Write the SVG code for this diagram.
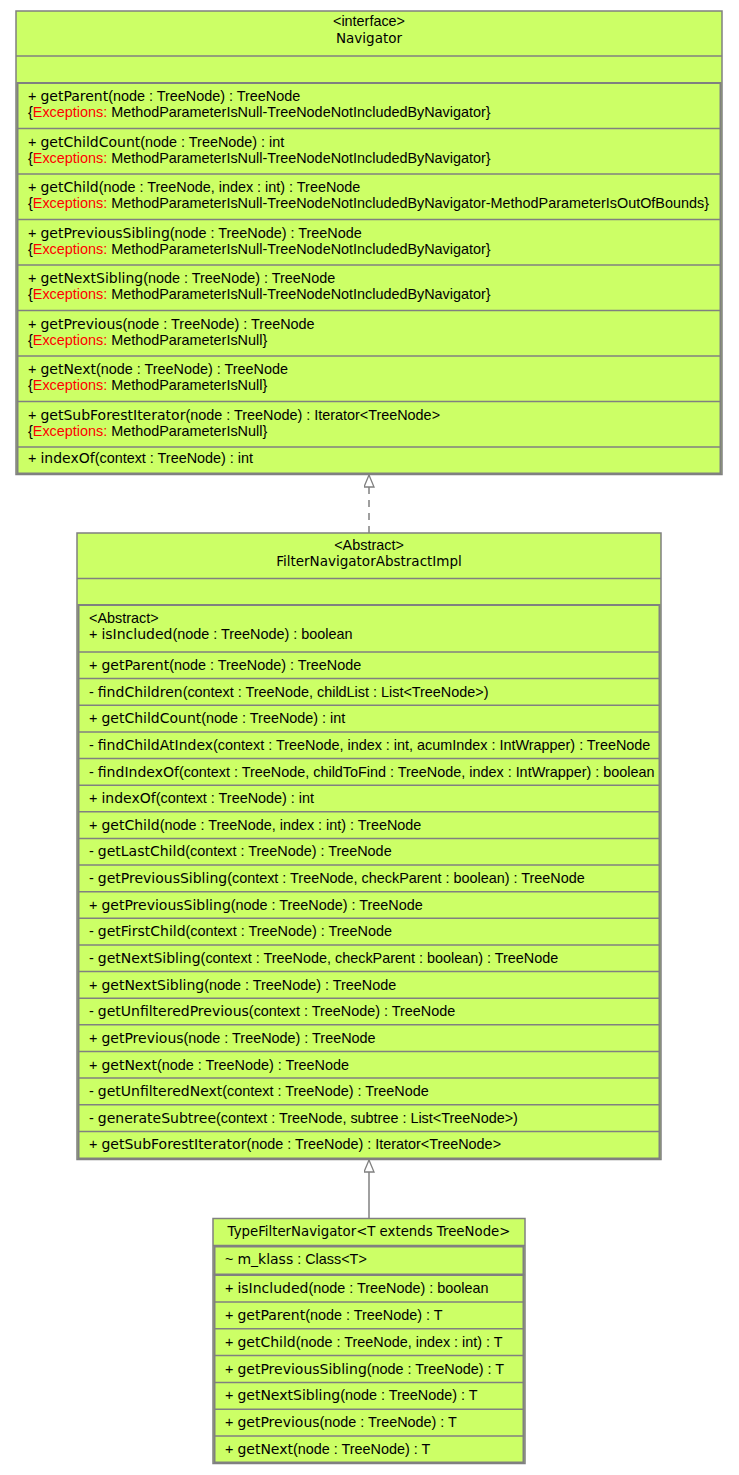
<svg xmlns="http://www.w3.org/2000/svg" width="739" height="1475" viewBox="0 0 739 1475">
<style>
.box{fill:#ccff66;stroke:#808080;stroke-width:1.5}
.cmp{fill:none;stroke:#808080;stroke-width:2}
.sep{stroke:#808080;stroke-width:1.5}
.t{font-family:"Liberation Sans",Arial,sans-serif;font-size:14.4px;fill:#000}
.m{font-family:"DejaVu Sans",sans-serif;font-size:14px}
.ex{fill:#ff0000}
.h{font-family:"DejaVu Sans",sans-serif;font-size:13.5px;text-anchor:middle;fill:#000}
.st{font-family:"Liberation Sans",Arial,sans-serif;font-size:14.4px;text-anchor:middle;fill:#000}
.conn{stroke:#808080;stroke-width:1.5;fill:none}
</style>
<defs>
<marker id="tri" viewBox="0 0 14 11" refX="13" refY="5.5" markerWidth="14" markerHeight="11" markerUnits="userSpaceOnUse" orient="auto">
<path d="M1,0.5 L13,5.5 L1,10.5 Z" fill="#ffffff" stroke="#808080" stroke-width="1.3" stroke-dasharray="none"/>
</marker>
</defs>

<g id="connectors">
<line class="conn" x1="369" y1="533" x2="369" y2="475" stroke-dasharray="7,6" marker-end="url(#tri)"/>
<line class="conn" x1="369" y1="1218" x2="369" y2="1160" marker-end="url(#tri)"/>
</g>

<g id="Navigator">
<rect class="box" x="16" y="11" width="706" height="463.5"/>
<line class="sep" x1="16" y1="56" x2="722" y2="56"/>
<rect class="cmp" x="17.5" y="83" width="703" height="390.5"/>
<line class="sep" x1="17.5" y1="128.5" x2="720.5" y2="128.5"/>
<line class="sep" x1="17.5" y1="174" x2="720.5" y2="174"/>
<line class="sep" x1="17.5" y1="219.5" x2="720.5" y2="219.5"/>
<line class="sep" x1="17.5" y1="265" x2="720.5" y2="265"/>
<line class="sep" x1="17.5" y1="310.5" x2="720.5" y2="310.5"/>
<line class="sep" x1="17.5" y1="356" x2="720.5" y2="356"/>
<line class="sep" x1="17.5" y1="401.5" x2="720.5" y2="401.5"/>
<line class="sep" x1="17.5" y1="447" x2="720.5" y2="447"/>
<text class="st" x="369" y="25.5">&lt;interface&gt;</text>
<text class="h" x="369" y="43">Navigator</text>
<text class="t" x="28" y="101">+ <tspan class="m">getParent</tspan>(node : TreeNode) : TreeNode</text>
<text class="t" x="28" y="117">{<tspan class="ex">Exceptions:</tspan> MethodParameterIsNull-TreeNodeNotIncludedByNavigator}</text>
<text class="t" x="28" y="146.5">+ <tspan class="m">getChildCount</tspan>(node : TreeNode) : int</text>
<text class="t" x="28" y="162.5">{<tspan class="ex">Exceptions:</tspan> MethodParameterIsNull-TreeNodeNotIncludedByNavigator}</text>
<text class="t" x="28" y="192">+ <tspan class="m">getChild</tspan>(node : TreeNode, index : int) : TreeNode</text>
<text class="t" x="28" y="208">{<tspan class="ex">Exceptions:</tspan> MethodParameterIsNull-TreeNodeNotIncludedByNavigator-MethodParameterIsOutOfBounds}</text>
<text class="t" x="28" y="237.5">+ <tspan class="m">getPreviousSibling</tspan>(node : TreeNode) : TreeNode</text>
<text class="t" x="28" y="253.5">{<tspan class="ex">Exceptions:</tspan> MethodParameterIsNull-TreeNodeNotIncludedByNavigator}</text>
<text class="t" x="28" y="283">+ <tspan class="m">getNextSibling</tspan>(node : TreeNode) : TreeNode</text>
<text class="t" x="28" y="299">{<tspan class="ex">Exceptions:</tspan> MethodParameterIsNull-TreeNodeNotIncludedByNavigator}</text>
<text class="t" x="28" y="328.5">+ <tspan class="m">getPrevious</tspan>(node : TreeNode) : TreeNode</text>
<text class="t" x="28" y="344.5">{<tspan class="ex">Exceptions:</tspan> MethodParameterIsNull}</text>
<text class="t" x="28" y="374">+ <tspan class="m">getNext</tspan>(node : TreeNode) : TreeNode</text>
<text class="t" x="28" y="390">{<tspan class="ex">Exceptions:</tspan> MethodParameterIsNull}</text>
<text class="t" x="28" y="419.5">+ <tspan class="m">getSubForestIterator</tspan>(node : TreeNode) : Iterator&lt;TreeNode&gt;</text>
<text class="t" x="28" y="435.5">{<tspan class="ex">Exceptions:</tspan> MethodParameterIsNull}</text>
<text class="t" x="28" y="463">+ <tspan class="m">indexOf</tspan>(context : TreeNode) : int</text>
</g>

<g id="FilterNavigatorAbstractImpl">
<rect class="box" x="77" y="533" width="584" height="626.5"/>
<line class="sep" x1="77" y1="578.5" x2="661" y2="578.5"/>
<rect class="cmp" x="78.5" y="605" width="581" height="553.5"/>
<line class="sep" x1="78.5" y1="652" x2="659.5" y2="652"/>
<line class="sep" x1="78.5" y1="678.6" x2="659.5" y2="678.6"/>
<line class="sep" x1="78.5" y1="705.3" x2="659.5" y2="705.3"/>
<line class="sep" x1="78.5" y1="731.9" x2="659.5" y2="731.9"/>
<line class="sep" x1="78.5" y1="758.5" x2="659.5" y2="758.5"/>
<line class="sep" x1="78.5" y1="785.2" x2="659.5" y2="785.2"/>
<line class="sep" x1="78.5" y1="811.8" x2="659.5" y2="811.8"/>
<line class="sep" x1="78.5" y1="838.4" x2="659.5" y2="838.4"/>
<line class="sep" x1="78.5" y1="865" x2="659.5" y2="865"/>
<line class="sep" x1="78.5" y1="891.7" x2="659.5" y2="891.7"/>
<line class="sep" x1="78.5" y1="918.3" x2="659.5" y2="918.3"/>
<line class="sep" x1="78.5" y1="944.9" x2="659.5" y2="944.9"/>
<line class="sep" x1="78.5" y1="971.6" x2="659.5" y2="971.6"/>
<line class="sep" x1="78.5" y1="998.2" x2="659.5" y2="998.2"/>
<line class="sep" x1="78.5" y1="1024.8" x2="659.5" y2="1024.8"/>
<line class="sep" x1="78.5" y1="1051.5" x2="659.5" y2="1051.5"/>
<line class="sep" x1="78.5" y1="1078.1" x2="659.5" y2="1078.1"/>
<line class="sep" x1="78.5" y1="1104.7" x2="659.5" y2="1104.7"/>
<line class="sep" x1="78.5" y1="1131.4" x2="659.5" y2="1131.4"/>
<text class="st" x="369" y="549.5">&lt;Abstract&gt;</text>
<text class="h" x="369" y="566">FilterNavigatorAbstractImpl</text>
<text class="t" x="89" y="622.5">&lt;Abstract&gt;</text>
<text class="t" x="89" y="639">+ <tspan class="m">isIncluded</tspan>(node : TreeNode) : boolean</text>
<text class="t" x="89" y="670">+ <tspan class="m">getParent</tspan>(node : TreeNode) : TreeNode</text>
<text class="t" x="89" y="696.6">- <tspan class="m">findChildren</tspan>(context : TreeNode, childList : List&lt;TreeNode&gt;)</text>
<text class="t" x="89" y="723.3">+ <tspan class="m">getChildCount</tspan>(node : TreeNode) : int</text>
<text class="t" x="89" y="749.9">- <tspan class="m">findChildAtIndex</tspan>(context : TreeNode, index : int, acumIndex : IntWrapper) : TreeNode</text>
<text class="t" x="89" y="776.5">- <tspan class="m">findIndexOf</tspan>(context : TreeNode, childToFind : TreeNode, index : IntWrapper) : boolean</text>
<text class="t" x="89" y="803.2">+ <tspan class="m">indexOf</tspan>(context : TreeNode) : int</text>
<text class="t" x="89" y="829.8">+ <tspan class="m">getChild</tspan>(node : TreeNode, index : int) : TreeNode</text>
<text class="t" x="89" y="856.4">- <tspan class="m">getLastChild</tspan>(context : TreeNode) : TreeNode</text>
<text class="t" x="89" y="883">- <tspan class="m">getPreviousSibling</tspan>(context : TreeNode, checkParent : boolean) : TreeNode</text>
<text class="t" x="89" y="909.7">+ <tspan class="m">getPreviousSibling</tspan>(node : TreeNode) : TreeNode</text>
<text class="t" x="89" y="936.3">- <tspan class="m">getFirstChild</tspan>(context : TreeNode) : TreeNode</text>
<text class="t" x="89" y="962.9">- <tspan class="m">getNextSibling</tspan>(context : TreeNode, checkParent : boolean) : TreeNode</text>
<text class="t" x="89" y="989.6">+ <tspan class="m">getNextSibling</tspan>(node : TreeNode) : TreeNode</text>
<text class="t" x="89" y="1016.2">- <tspan class="m">getUnfilteredPrevious</tspan>(context : TreeNode) : TreeNode</text>
<text class="t" x="89" y="1042.8">+ <tspan class="m">getPrevious</tspan>(node : TreeNode) : TreeNode</text>
<text class="t" x="89" y="1069.5">+ <tspan class="m">getNext</tspan>(node : TreeNode) : TreeNode</text>
<text class="t" x="89" y="1096.1">- <tspan class="m">getUnfilteredNext</tspan>(context : TreeNode) : TreeNode</text>
<text class="t" x="89" y="1122.7">- <tspan class="m">generateSubtree</tspan>(context : TreeNode, subtree : List&lt;TreeNode&gt;)</text>
<text class="t" x="89" y="1149.4">+ <tspan class="m">getSubForestIterator</tspan>(node : TreeNode) : Iterator&lt;TreeNode&gt;</text>
</g>

<g id="TypeFilterNavigator">
<rect class="box" x="213" y="1218.5" width="312" height="245"/>
<line class="sep" x1="213" y1="1245.5" x2="525" y2="1245.5"/>
<rect class="cmp" x="214.5" y="1246.5" width="309" height="28"/>
<rect class="cmp" x="214.5" y="1275" width="309" height="187.5"/>
<line class="sep" x1="214.5" y1="1301.9" x2="523.5" y2="1301.9"/>
<line class="sep" x1="214.5" y1="1328.7" x2="523.5" y2="1328.7"/>
<line class="sep" x1="214.5" y1="1355.6" x2="523.5" y2="1355.6"/>
<line class="sep" x1="214.5" y1="1382.4" x2="523.5" y2="1382.4"/>
<line class="sep" x1="214.5" y1="1409.3" x2="523.5" y2="1409.3"/>
<line class="sep" x1="214.5" y1="1436.1" x2="523.5" y2="1436.1"/>
<text class="h" x="369" y="1236" style="font-size:13.3px">TypeFilterNavigator&lt;T extends TreeNode&gt;</text>
<text class="t" x="225" y="1263.5">~ <tspan class="m">m_klass</tspan> : Class&lt;T&gt;</text>
<text class="t" x="225" y="1293">+ <tspan class="m">isIncluded</tspan>(node : TreeNode) : boolean</text>
<text class="t" x="225" y="1319.9">+ <tspan class="m">getParent</tspan>(node : TreeNode) : T</text>
<text class="t" x="225" y="1346.7">+ <tspan class="m">getChild</tspan>(node : TreeNode, index : int) : T</text>
<text class="t" x="225" y="1373.6">+ <tspan class="m">getPreviousSibling</tspan>(node : TreeNode) : T</text>
<text class="t" x="225" y="1400.4">+ <tspan class="m">getNextSibling</tspan>(node : TreeNode) : T</text>
<text class="t" x="225" y="1427.3">+ <tspan class="m">getPrevious</tspan>(node : TreeNode) : T</text>
<text class="t" x="225" y="1454.1">+ <tspan class="m">getNext</tspan>(node : TreeNode) : T</text>
</g>
</svg>
